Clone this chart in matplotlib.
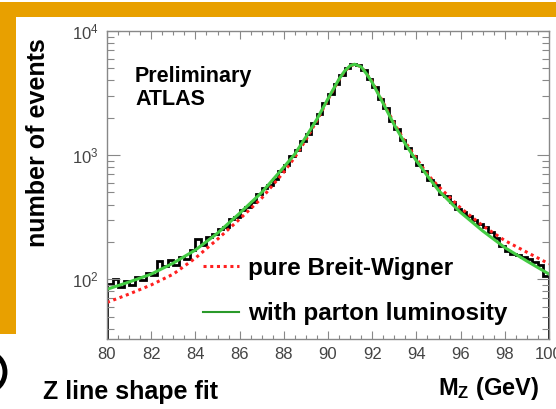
import numpy as np
import matplotlib
matplotlib.use("Agg")
import matplotlib.pyplot as plt
from matplotlib.patches import Rectangle, Ellipse
from matplotlib.lines import Line2D
from matplotlib.ticker import LogLocator, MultipleLocator, NullFormatter

plt.rcParams['font.family'] = ['Liberation Sans', 'DejaVu Sans']
plt.rcParams['mathtext.fontset'] = 'custom'
plt.rcParams['mathtext.rm'] = 'Liberation Sans'
plt.rcParams['mathtext.bf'] = 'Liberation Sans:bold'

# ---- data ----
# histogram, 0.25 GeV bins from 80 to 100
bin_edges = np.linspace(80, 100, 81)
counts = [92, 101, 87, 96, 90, 104, 98, 112, 108, 140,
          128, 142, 130, 150, 146, 172, 212, 188, 220, 232,
          252, 262, 305, 320, 362, 380, 420, 490, 545, 575,
          640, 745, 840, 975, 1090, 1310, 1490, 1810, 2140, 2630,
          3090, 3740, 4380, 5020, 5380, 5280, 4880, 4140, 3530, 2850,
          2380, 1900, 1620, 1320, 1150, 990, 830, 745, 630, 570,
          485, 465, 420, 370, 345, 322, 300, 280, 262, 240,
          215, 185, 170, 160, 158, 150, 145, 138, 130, 106]

# pure Breit-Wigner
bw_m = [80, 81, 82, 83, 84, 85, 86, 87, 88, 88.5, 89, 89.5, 90, 90.5, 90.75,
        91, 91.2, 91.5, 91.75, 92, 92.5, 93, 93.5, 94, 94.5, 95, 96, 97, 98, 99, 100]
bw_n = [65, 76, 90, 110, 148, 210, 305, 450, 730, 960, 1330, 1900, 2800, 4050, 4720,
        5200, 5400, 5150, 4520, 3900, 2650, 1800, 1270, 940, 700, 560, 375, 270, 205, 165, 133]

# Breit-Wigner with parton luminosity
lum_m = bw_m
lum_n = [83, 95, 110, 135, 172, 235, 340, 500, 800, 1020, 1400, 1950, 2850, 4100, 4750,
         5250, 5400, 5150, 4500, 3850, 2600, 1750, 1230, 900, 680, 520, 345, 245, 180, 140, 110]

W, H = 556, 409
fx = lambda px: px / W
fy = lambda py: 1 - py / H

fig = plt.figure(figsize=(W / 100, H / 100), dpi=100)
fig.patch.set_facecolor('white')

# slide decoration
orange = '#E8A000'
fig.add_artist(Rectangle((fx(0), fy(17)), 1, 15 / H, transform=fig.transFigure, color=orange, lw=0))
fig.add_artist(Rectangle((fx(0), fy(136.5)), 16 / W, 119.5 / H, transform=fig.transFigure, color=orange, lw=0))
fig.add_artist(Rectangle((fx(0), fy(334)), 16 / W, 197 / H, transform=fig.transFigure, color=orange, lw=0))
fig.add_artist(Ellipse((fx(-12), fy(372)), 34 / W, 38 / H, transform=fig.transFigure,
                       facecolor='none', edgecolor='black', lw=3.5))

ax = fig.add_axes([fx(107), fy(339), 442 / W, 308 / H])

ax.stairs(counts, bin_edges, color='black', lw=2.0)
ax.plot(bw_m, bw_n, color='#ff2020', lw=2.2, dashes=(1, 1.2))
ax.plot(lum_m, lum_n, color='#44cc44', lw=2.2)

ax.set_yscale('log')
ax.set_xlim(80, 100)
ax.set_ylim(33, 1e4)

ax.xaxis.set_major_locator(MultipleLocator(2))
ax.xaxis.set_minor_locator(MultipleLocator(0.5))
ax.yaxis.set_major_locator(LogLocator(base=10))
ax.yaxis.set_minor_locator(LogLocator(base=10, subs=np.arange(2, 10)))
ax.yaxis.set_minor_formatter(NullFormatter())

for s in ax.spines.values():
    s.set_color('#888888')
    s.set_linewidth(1.0)
ax.tick_params(which='both', direction='in', top=True, right=True, colors='#888888',
               labelcolor='#444444', labelsize=12, width=0.8)
ax.tick_params(axis='x', which='major', length=6, pad=6)
ax.tick_params(axis='x', which='minor', length=3)
ax.tick_params(axis='y', which='major', length=9, pad=6)
ax.tick_params(axis='y', which='minor', length=5)

fig.text(fx(38), fy(143), 'number of events', rotation=90, ha='center', va='center',
         fontsize=18, fontweight='bold')
fig.text(fx(135), fy(82), 'Preliminary', fontsize=15.5, fontweight='bold', va='baseline')
fig.text(fx(135), fy(105), 'ATLAS', fontsize=15.5, fontweight='bold', va='baseline')
fig.text(fx(539), fy(388), r'$\mathbf{M_Z}$ (GeV)', ha='right', va='center',
         fontsize=17, fontweight='bold')
fig.text(fx(43), fy(392), 'Z line shape fit', ha='left', va='center',
         fontsize=18, fontweight='bold')

handles = [Line2D([], [], color='#ff2020', lw=2.2, dashes=(1, 1.2)),
           Line2D([], [], color='#2a9a2a', lw=1.5)]
fig.legend(handles, ['pure Breit-Wigner', 'with parton luminosity'],
           loc='upper left', bbox_to_anchor=(fx(203), fy(257)), frameon=False,
           prop={'weight': 'bold', 'size': 17.5}, borderpad=0, borderaxespad=0,
           handlelength=1.5, handletextpad=0.35, labelspacing=0.92)

fig.savefig('out.png', dpi=100)
